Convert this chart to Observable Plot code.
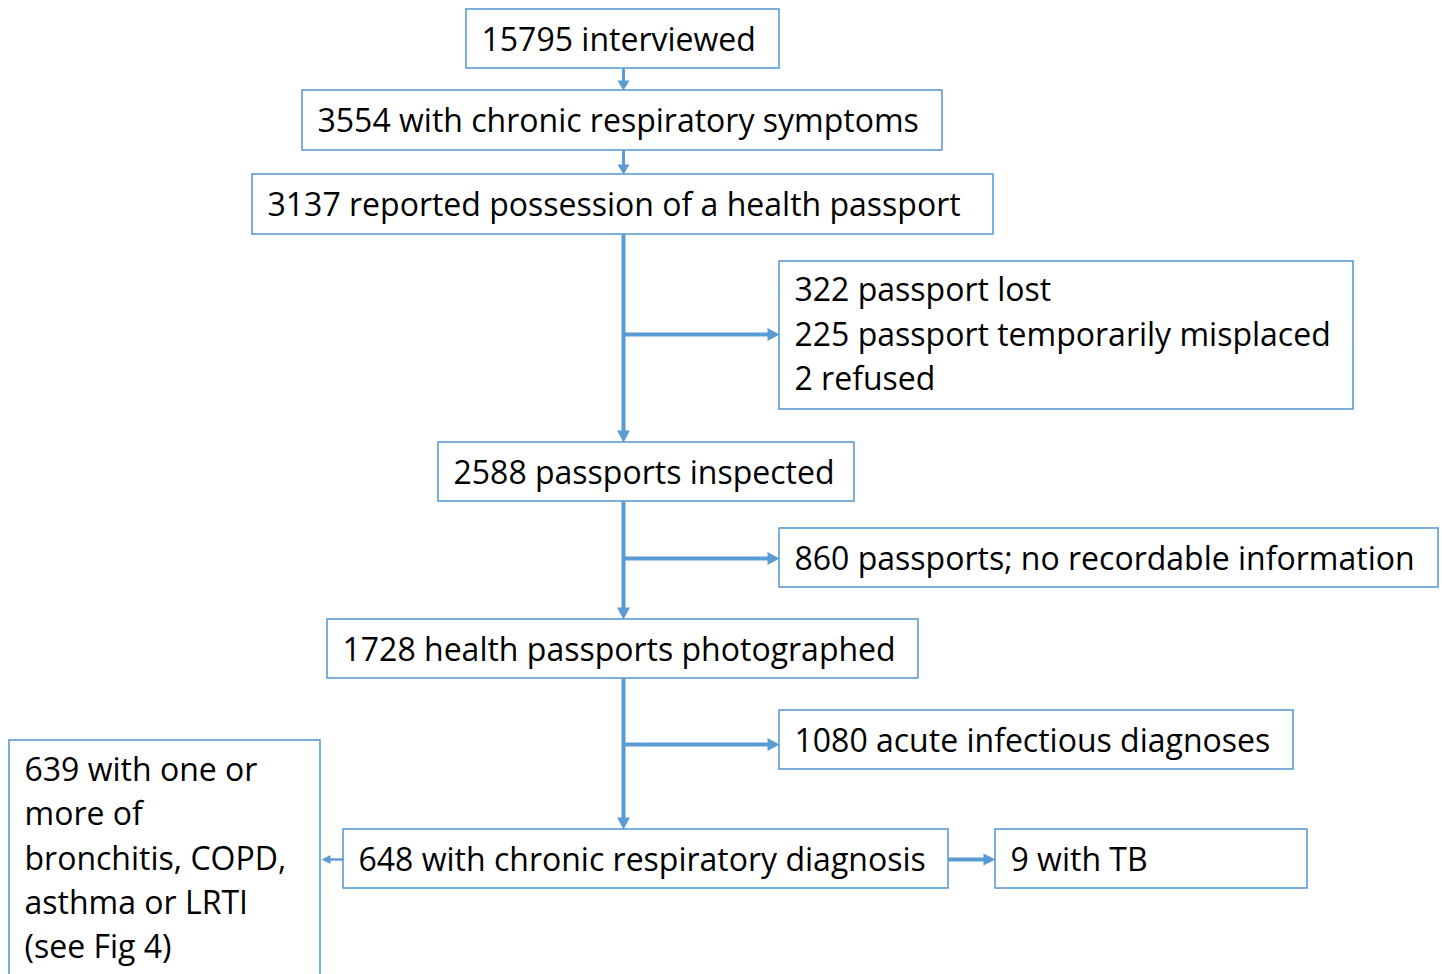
<!DOCTYPE html>
<html>
<head>
<meta charset="utf-8">
<script src="https://cdn.jsdelivr.net/npm/d3@7"></script>
<script src="https://cdn.jsdelivr.net/npm/@observablehq/plot@0.6"></script>
<style>
  html, body { margin: 0; padding: 0; background: #fff; }
  #chart svg { display: block; }
</style>
</head>
<body>
<div id="chart"></div>
<script>
// ---- Content (values / texts) ----
const boxLabels = [
  "15795 interviewed",
  "3554 with chronic respiratory symptoms",
  "3137 reported possession of a health passport",
  "322 passport lost\n225 passport temporarily misplaced\n2 refused",
  "2588 passports inspected",
  "860 passports; no recordable information",
  "1728 health passports photographed",
  "1080 acute infectious diagnoses",
  "648 with chronic respiratory diagnosis",
  "9 with TB",
  "639 with one or\nmore of\nbronchitis, COPD,\nasthma or LRTI\n(see Fig 4)"
];

// ---- Layout (pixel positions in the 1442x974 frame) ----
const boxLayout = [
  {x1: 466, y1: 9,   x2: 779,  y2: 68,  ty: 36},
  {x1: 302, y1: 90,  x2: 942,  y2: 150, ty: 117},
  {x1: 252, y1: 174, x2: 993,  y2: 234, ty: 201},
  {x1: 779, y1: 261, x2: 1353, y2: 409, ty: 331},
  {x1: 438, y1: 442, x2: 854,  y2: 501, ty: 469},
  {x1: 779, y1: 528, x2: 1438, y2: 587, ty: 555},
  {x1: 327, y1: 619, x2: 918,  y2: 678, ty: 646},
  {x1: 779, y1: 710, x2: 1293, y2: 769, ty: 737},
  {x1: 343, y1: 829, x2: 948,  y2: 888, ty: 856},
  {x1: 995, y1: 829, x2: 1307, y2: 888, ty: 856},
  {x1: 9,   y1: 740, x2: 320,  y2: 1000, ty: 855}
];

// connectors: start point -> tip, with line width and head size
const connectorLayout = [
  {x1: 623, y1: 68,  x2: 623, y2: 90,  w: 3,   hl: 10, hw: 12},
  {x1: 623, y1: 150, x2: 623, y2: 174, w: 3,   hl: 10, hw: 12},
  {x1: 623, y1: 234, x2: 623, y2: 442, w: 4,   hl: 12, hw: 13},
  {x1: 623, y1: 334, x2: 779, y2: 334, w: 4,   hl: 12, hw: 13},
  {x1: 623, y1: 501, x2: 623, y2: 619, w: 4,   hl: 12, hw: 13},
  {x1: 623, y1: 558, x2: 779, y2: 558, w: 4,   hl: 12, hw: 13},
  {x1: 623, y1: 678, x2: 623, y2: 829, w: 4,   hl: 12, hw: 13},
  {x1: 623, y1: 744, x2: 779, y2: 744, w: 4,   hl: 12, hw: 13},
  {x1: 343, y1: 859, x2: 321, y2: 859, w: 2.5, hl: 9,  hw: 9},
  {x1: 948, y1: 859, x2: 995, y2: 859, w: 4,   hl: 12, hw: 12}
];

const blue = "#5b9bd5";

const boxes = boxLabels.map((label, i) => ({label, ...boxLayout[i]}));

// shafts end where heads begin
const shafts = connectorLayout.map(c => {
  const len = Math.hypot(c.x2 - c.x1, c.y2 - c.y1);
  const ux = (c.x2 - c.x1) / len, uy = (c.y2 - c.y1) / len;
  return {x1: c.x1, y1: c.y1, x2: c.x2 - ux * (c.hl - 1), y2: c.y2 - uy * (c.hl - 1), w: c.w};
});

const heads = connectorLayout.flatMap((c, i) => {
  const len = Math.hypot(c.x2 - c.x1, c.y2 - c.y1);
  const ux = (c.x2 - c.x1) / len, uy = (c.y2 - c.y1) / len;
  const bx = c.x2 - ux * c.hl, by = c.y2 - uy * c.hl;
  const px = -uy, py = ux;
  return [
    {id: i, x: c.x2, y: c.y2},
    {id: i, x: bx + px * c.hw / 2, y: by + py * c.hw / 2},
    {id: i, x: bx - px * c.hw / 2, y: by - py * c.hw / 2},
    {id: i, x: c.x2, y: c.y2}
  ];
});

const chart = Plot.plot({
  width: 1442,
  height: 974,
  margin: 0,
  x: {domain: [0, 1442], range: [0, 1442], axis: null},
  y: {domain: [0, 974], range: [0, 974], axis: null},
  style: {fontFamily: "'Open Sans', sans-serif", background: "#fff"},
  marks: [
    Plot.rect(boxes, {x1: "x1", x2: "x2", y1: "y1", y2: "y2", fill: "white", stroke: blue, strokeWidth: 1.6}),
    Plot.link(shafts, {x1: "x1", y1: "y1", x2: "x2", y2: "y2", stroke: blue, strokeWidth: d => d.w, strokeLinecap: "butt"}),
    Plot.line(heads, {x: "x", y: "y", z: "id", fill: blue, stroke: "none", curve: "linear"}),
    Plot.text(boxes, {
      x: d => d.x1 + 15, y: "ty", text: "label",
      textAnchor: "start", lineAnchor: "middle", lineHeight: 1.38,
      fontSize: 32, fill: "#000"
    })
  ]
});

document.getElementById("chart").appendChild(chart);
</script>
</body>
</html>
